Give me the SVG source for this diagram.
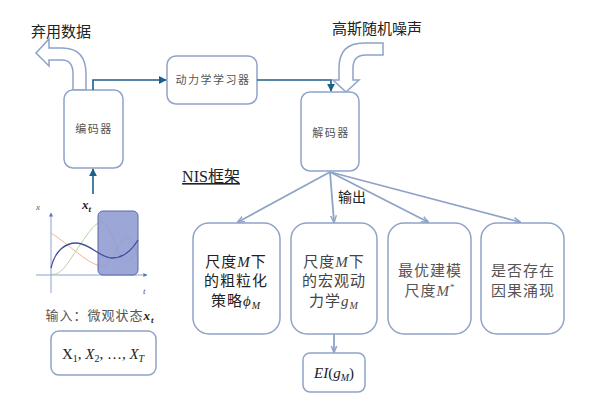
<svg xmlns="http://www.w3.org/2000/svg" width="600" height="415" viewBox="0 0 600 415">
<defs>
<style>
.box{fill:#fff;stroke:#8fa3c8;stroke-width:1.5}
.blk{fill:#fff;stroke:#8fa3c8;stroke-width:1.5}
.t{font-family:"Liberation Serif","Noto Sans CJK SC",serif;text-anchor:middle}
.lbl{font-size:15px;fill:#222}
.sm{font-size:11px;fill:#555;letter-spacing:1.5px}
.bt{font-size:15px;letter-spacing:1px}
.m{font-family:"Liberation Serif",serif;font-style:italic}
.flow{fill:none;stroke:#1f5f8b;stroke-width:1.6}
.out{fill:none;stroke:#8fa3c8;stroke-width:1.8}
</style>
<marker id="ah" viewBox="0 0 10 10" refX="9" refY="5" markerWidth="5" markerHeight="5" orient="auto"><path d="M0,0L10,5L0,10z" fill="#1f5f8b"/></marker>
<marker id="ao" viewBox="0 0 10 10" refX="9" refY="5" markerWidth="4" markerHeight="4" orient="auto"><path d="M0,1L10,5L0,9" fill="none" stroke="#8fa3c8" stroke-width="2"/></marker>
<marker id="ax" viewBox="0 0 10 10" refX="9" refY="5" markerWidth="4" markerHeight="4" orient="auto"><path d="M0,0L10,5L0,10z" fill="#5b73c0"/></marker>
</defs>
<rect width="600" height="415" fill="#fff"/>

<g id="discard">
<path class="blk" d="M86,90 L86,74 Q86,48 62,48 L49,48 L49,39 L36,53 L49,66 L49,60 L62,60 Q73,60 73,74 L73,90 Z"/>
<text class="t lbl" x="61" y="37">弃用数据</text>
</g>
<g id="noise">
<path class="blk" d="M383,43 L364,43 Q339,43 339,68 L339,80 L333,80 L346,92 L359,80 L353,80 L353,68 Q353,55 366,55 L383,55 Z"/>
<text class="t lbl" x="377" y="34">高斯随机噪声</text>
</g>

<g id="encoder">
<rect class="box" x="64" y="90" width="59" height="78" rx="9"/>
<text class="t sm" x="94" y="133">编码器</text>
</g>
<g id="learner">
<rect class="box" x="167" y="56" width="90" height="48" rx="9"/>
<text class="t sm" x="213" y="84">动力学学习器</text>
</g>
<g id="decoder">
<rect class="box" x="301" y="92" width="58" height="79" rx="9"/>
<text class="t sm" x="331" y="137">解码器</text>
</g>

<g id="title">
<text class="t" x="211" y="182" font-size="16" fill="#222" text-decoration="underline">NIS框架</text>
</g>

<g id="connectors">
<path class="flow" d="M93,90 L93,80 L166,80" marker-end="url(#ah)"/>
<path class="flow" d="M257,80 L331,80 L331,91" marker-end="url(#ah)"/>
<path class="flow" d="M93,194 L93,169" marker-end="url(#ah)"/>
<path class="out" d="M330,172 L238,222" marker-end="url(#ao)"/>
<path class="out" d="M330,172 L334,222" marker-end="url(#ao)"/>
<path class="out" d="M330,172 L428,222" marker-end="url(#ao)"/>
<path class="out" d="M330,172 L520,222" marker-end="url(#ao)"/>
<path class="out" d="M334,334 L334,352" marker-end="url(#ao)"/>
<text class="t" x="352" y="202" font-size="14" fill="#222">输出</text>
</g>

<g id="box1">
<rect class="box" x="193" y="223" width="87" height="111" rx="16"/>
<text class="t bt" fill="#222"><tspan x="236" y="267">尺度<tspan class="m">M</tspan>下</tspan><tspan x="236" y="286">的粗粒化</tspan><tspan x="236" y="306">策略<tspan class="m">ϕ</tspan><tspan class="m" font-size="10" dy="3">M</tspan></tspan></text>
</g>
<g id="box2">
<rect class="box" x="291" y="223" width="86" height="111" rx="16"/>
<text class="t bt" fill="#444"><tspan x="334" y="267">尺度<tspan class="m">M</tspan>下</tspan><tspan x="334" y="286">的宏观动</tspan><tspan x="334" y="306">力学<tspan class="m">g</tspan><tspan class="m" font-size="10" dy="3">M</tspan></tspan></text>
</g>
<g id="box3">
<rect class="box" x="388" y="223" width="83" height="111" rx="16"/>
<text class="t bt" fill="#555"><tspan x="430" y="276">最优建模</tspan><tspan x="430" y="296">尺度<tspan class="m">M</tspan><tspan font-size="9" dy="-6">*</tspan></tspan></text>
</g>
<g id="box4">
<rect class="box" x="481" y="223" width="83" height="111" rx="16"/>
<text class="t bt" fill="#555"><tspan x="523" y="276">是否存在</tspan><tspan x="523" y="296">因果涌现</tspan></text>
</g>
<g id="ei">
<rect class="box" x="303" y="353" width="62" height="39" rx="7"/>
<text class="t" x="334" y="378" font-size="15" fill="#222"><tspan class="m">EI</tspan>(<tspan class="m">g</tspan><tspan class="m" font-size="10" dy="3">M</tspan><tspan dy="-3">)</tspan></text>
</g>

<g id="chart">
<line x1="51" y1="293" x2="51" y2="213" stroke="#8da0d6" stroke-width="1" marker-end="url(#ax)"/>
<line x1="36" y1="275" x2="147" y2="275" stroke="#8da0d6" stroke-width="1" marker-end="url(#ax)"/>
<text x="36" y="210" font-family="Liberation Serif,serif" font-style="italic" font-size="9" fill="#555">x</text>
<text x="143" y="294" font-family="Liberation Serif,serif" font-style="italic" font-size="9" fill="#555">t</text>
<path d="M51,233 C70,245 85,262 100,266 C112,270 118,240 126,238 C134,236 136,255 138,258" fill="none" stroke="#f2b48f" stroke-width="1"/>
<path d="M51,274 C62,276 68,262 80,245 C90,230 96,222 102,222 C112,222 118,262 126,262 C132,262 136,250 138,246" fill="none" stroke="#b5d3a0" stroke-width="1"/>
<rect x="98" y="211" width="40" height="64" rx="5" fill="#8c98d0" fill-opacity="0.85" stroke="#5a6aaa" stroke-width="1"/>
<path d="M51,268 C55,250 66,243 76,243 C90,243 100,258 112,258 C124,258 132,250 138,240" fill="none" stroke="#3f4f9a" stroke-width="1.3"/>
<text x="82" y="209" font-family="Liberation Serif,serif" font-style="italic" font-weight="bold" font-size="13" fill="#222">x<tspan font-size="9" dy="3">t</tspan></text>
</g>
<g id="input">
<text class="t" x="100" y="320" font-size="13" fill="#555" letter-spacing="1">输入：微观状态<tspan font-family="Liberation Serif,serif" font-style="italic" font-weight="bold" fill="#222">x</tspan><tspan font-family="Liberation Serif,serif" font-style="italic" font-weight="bold" fill="#222" font-size="9" dy="3">t</tspan></text>
<rect class="box" x="51" y="331" width="105" height="44" rx="8"/>
<text class="t" x="103" y="359" font-size="15" fill="#222">X<tspan font-size="10" dy="3">1</tspan><tspan dy="-3">, </tspan><tspan class="m">X</tspan><tspan font-size="10" dy="3">2</tspan><tspan dy="-3">, …, </tspan><tspan class="m">X</tspan><tspan class="m" font-size="10" dy="3">T</tspan></text>
</g>
</svg>
